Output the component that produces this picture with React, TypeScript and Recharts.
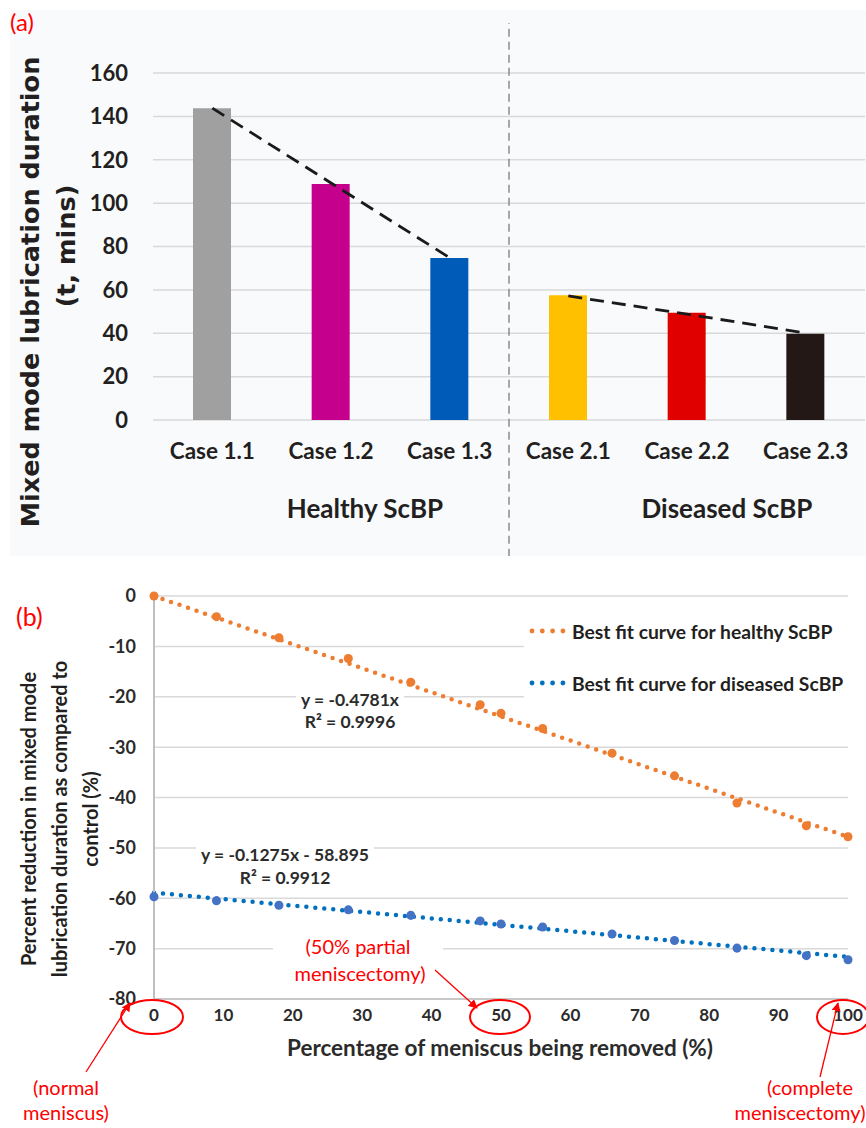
import React from 'react';
import {
  BarChart, Bar, XAxis, YAxis, CartesianGrid, Line, Cell, ReferenceLine,
  ComposedChart, Scatter,
} from 'recharts';

// ---------- Panel (a) data ----------
const cases = ['Case 1.1', 'Case 1.2', 'Case 1.3', 'Case 2.1', 'Case 2.2', 'Case 2.3'];
const durations = [143.8, 108.8, 74.7, 57.5, 49.5, 39.8];
const healthyTrend: (number | null)[] = [143.8, 109.3, 74.8, null, null, null];
const diseasedTrend: (number | null)[] = [null, null, null, 57.2, 48.8, 40.1];
const barColors = ['#A0A0A0', '#C4008C', '#005BB8', '#FFC000', '#E00000', '#231815'];
const groupLabels = ['Healthy ScBP', 'Diseased ScBP'];
const yTicksA = [0, 20, 40, 60, 80, 100, 120, 140, 160];

// ---------- Panel (b) data ----------
const removedPct = [0, 9, 18, 28, 37, 47, 50, 56, 66, 75, 84, 94, 100];
const healthyReduction = [0, -4.1, -8.3, -12.4, -17.1, -21.6, -23.3, -26.3, -31.2, -35.7, -41.1, -45.6, -47.8];
const diseasedReduction = [-59.7, -60.5, -61.4, -62.3, -63.4, -64.5, -65.1, -65.7, -67.1, -68.4, -69.9, -71.4, -72.2];
const healthyFitX = [0, 100];
const healthyFitY = [0, -47.81];
const diseasedFitX = [0, 100];
const diseasedFitY = [-58.9, -71.65];
const xTicksB = [0, 10, 20, 30, 40, 50, 60, 70, 80, 90, 100];
const yTicksB = [-80, -70, -60, -50, -40, -30, -20, -10, 0];

const dataA = cases.map((c, i) => ({
  name: c, value: durations[i], ht: healthyTrend[i], dt: diseasedTrend[i], n: i + 0.5,
}));
const healthyPts = removedPct.map((x, i) => ({ x, y: healthyReduction[i] }));
const diseasedPts = removedPct.map((x, i) => ({ x, y: diseasedReduction[i] }));
const healthyFit = healthyFitX.map((x, i) => ({ x, y: healthyFitY[i] }));
const diseasedFit = diseasedFitX.map((x, i) => ({ x, y: diseasedFitY[i] }));

const DARK = '#231F20';
const TXT = '#2B2B2B';
const RED = '#FF0000';
const LATO = 'Lato, "Open Sans", sans-serif';

const CaseTick = (props: any) => {
  const { x, y, payload } = props;
  const v = payload.value as string;
  return (
    <g>
      <text x={x} y={y + 22} textAnchor="middle" dominantBaseline="central"
        fontFamily={LATO} fontWeight={700} fontSize={22.5} fill={DARK}>{v}</text>
      {v === 'Case 1.2' && (
        <text x={x + 34} y={y + 80} textAnchor="middle" dominantBaseline="central"
          fontFamily={LATO} fontWeight={700} fontSize={26} fill={DARK}>{groupLabels[0]}</text>
      )}
      {v === 'Case 2.2' && (
        <text x={x + 40} y={y + 80} textAnchor="middle" dominantBaseline="central"
          fontFamily={LATO} fontWeight={700} fontSize={26} fill={DARK}>{groupLabels[1]}</text>
      )}
    </g>
  );
};

const Arrow = ({ x1, y1, x2, y2 }: any) => (
  <line x1={x1} y1={y1} x2={x2} y2={y2} stroke={RED} strokeWidth={1.3} markerEnd="url(#arrowRed)" />
);

export default function App() {
  return (
    <div style={{ position: 'absolute', left: 0, top: 0, width: 866, height: 1128, background: '#fff', overflow: 'hidden' }}>
      {/* Panel (a) */}
      <div style={{ position: 'absolute', left: 10, top: 10, width: 856, height: 546, background: '#F9FAFC' }}>
        <BarChart width={856} height={546} data={dataA}
          margin={{ top: 63, right: 1, bottom: 106, left: 0 }}>
          <CartesianGrid vertical={false} stroke="#D9D9D9" strokeWidth={1.5} />
          <XAxis dataKey="name" height={30} axisLine={false} tickLine={false} tick={<CaseTick />} interval={0} />
          <XAxis xAxisId="n" type="number" dataKey="n" domain={[0, 6]} hide />
          <YAxis domain={[0, 160]} ticks={yTicksA} width={143} axisLine={false} tickLine={false}
            tickMargin={19} tick={{ fontFamily: LATO, fontWeight: 700, fontSize: 22, fill: DARK }} />
          <Bar dataKey="value" barSize={38} isAnimationActive={false}>
            {dataA.map((d, i) => <Cell key={d.name} fill={barColors[i]} />)}
          </Bar>
          <Line dataKey="ht" stroke="#1A1A1A" strokeWidth={2.8} strokeDasharray="14 8" dot={false}
            activeDot={false} connectNulls={false} isAnimationActive={false} />
          <Line dataKey="dt" stroke="#1A1A1A" strokeWidth={2.8} strokeDasharray="14 8" dot={false}
            activeDot={false} connectNulls={false} isAnimationActive={false} />
          <ReferenceLine xAxisId="n" ifOverflow="visible" stroke="#8C8C8C" strokeWidth={1.5} strokeDasharray="8 5"
            segment={[{ x: 3, y: -63 }, { x: 3, y: 183 }]} />
        </BarChart>
      </div>

      {/* Panel (b) */}
      <div style={{ position: 'absolute', left: 0, top: 560, width: 866, height: 568 }}>
        <ComposedChart width={866} height={568} margin={{ top: 36, right: 18, bottom: 99, left: 0 }}>
          <CartesianGrid vertical={false} stroke="#D9D9D9" strokeWidth={1.5} />
          <XAxis type="number" dataKey="x" domain={[0, 100]} ticks={xTicksB} height={30}
            axisLine={{ stroke: '#BFBFBF', strokeWidth: 1.5 }} tickLine={false} tickMargin={4}
            tick={{ fontFamily: LATO, fontWeight: 700, fontSize: 17, fill: TXT }} />
          <YAxis type="number" domain={[-80, 0]} ticks={yTicksB} width={154}
            axisLine={{ stroke: '#BFBFBF', strokeWidth: 2 }} tickLine={false} tickMargin={12}
            tick={{ fontFamily: LATO, fontWeight: 700, fontSize: 18, fill: TXT }} />
          <Scatter data={healthyPts} dataKey="y" fill="#ED7D31" isAnimationActive={false} />
          <Scatter data={diseasedPts} dataKey="y" fill="#4472C4" isAnimationActive={false} />
          <Line data={healthyFit} dataKey="y" stroke="#ED7D31" strokeWidth={4.5} strokeDasharray="0 9"
            strokeLinecap="round" dot={false} activeDot={false} isAnimationActive={false} />
          <Line data={diseasedFit} dataKey="y" stroke="#0070C0" strokeWidth={4.5} strokeDasharray="0 9"
            strokeLinecap="round" dot={false} activeDot={false} isAnimationActive={false} />
        </ComposedChart>
      </div>

      {/* Annotations overlay */}
      <svg width={866} height={1128} style={{ position: 'absolute', left: 0, top: 0, pointerEvents: 'none' }}>
        <defs>
          <marker id="arrowRed" viewBox="0 0 10 10" refX="9" refY="5" markerWidth="9" markerHeight="9"
            markerUnits="userSpaceOnUse" orient="auto">
            <path d="M0,0 L10,5 L0,10 z" fill={RED} />
          </marker>
        </defs>
        {/* (a) */}
        <text x={10} y={31} fontFamily={LATO} fontSize={24} fill={RED}>(a)</text>
        <text x={30} y={292} transform="rotate(-90 30 292)" textAnchor="middle" dominantBaseline="central"
          fontFamily='"DejaVu Sans", sans-serif' fontWeight={700} fontSize={25.5} fill={DARK}>
          Mixed mode lubrication duration
        </text>
        <text x={66} y={246} transform="rotate(-90 66 246)" textAnchor="middle" dominantBaseline="central"
          fontFamily='"DejaVu Sans", sans-serif' fontWeight={700} fontSize={25.5} fill={DARK}>
          (t, mins)
        </text>

        {/* (b) */}
        <text x={16} y={626} fontFamily={LATO} fontSize={25} fill={RED}>(b)</text>
        {['Percent reduction in mixed mode', 'lubrication duration as compared to', 'control (%)'].map((t, i) => (
          <text key={t} x={28 + i * 31} y={819} transform={`rotate(-90 ${28 + i * 31} 819)`}
            textAnchor="middle" dominantBaseline="central" fontFamily={LATO} fontWeight={700}
            fontSize={20} fill={DARK}>{t}</text>
        ))}
        <text x={500} y={1047} textAnchor="middle" dominantBaseline="central" fontFamily={LATO}
          fontWeight={700} fontSize={22.5} fill={TXT}>Percentage of meniscus being removed (%)</text>

        {/* legend */}
        <rect x={524} y={606} width={330} height={100} fill="#fff" />
        {[0, 1, 2, 3].map((k) => (
          <circle key={'o' + k} cx={532 + k * 10.3} cy={631} r={2.4} fill="#ED7D31" />
        ))}
        {[0, 1, 2, 3].map((k) => (
          <circle key={'b' + k} cx={532 + k * 10.3} cy={683} r={2.4} fill="#0070C0" />
        ))}
        <text x={572} y={631} dominantBaseline="central" fontFamily={LATO} fontWeight={700} fontSize={19.3} fill={DARK}>
          Best fit curve for healthy ScBP
        </text>
        <text x={572} y={683} dominantBaseline="central" fontFamily={LATO} fontWeight={700} fontSize={19.3} fill={DARK}>
          Best fit curve for diseased ScBP
        </text>

        {/* equations */}
        <rect x={296} y={688} width={108} height={44} fill="#fff" />
        <text x={350} y={699} textAnchor="middle" dominantBaseline="central" fontFamily={LATO} fontWeight={700} fontSize={17.5} fill={TXT}>y = -0.4781x</text>
        <text x={350} y={721} textAnchor="middle" dominantBaseline="central" fontFamily={LATO} fontWeight={700} fontSize={17.5} fill={TXT}>R² = 0.9996</text>
        <rect x={196} y={842} width={178} height={46} fill="#fff" />
        <text x={285} y={854} textAnchor="middle" dominantBaseline="central" fontFamily={LATO} fontWeight={700} fontSize={17.5} fill={TXT}>y = -0.1275x - 58.895</text>
        <text x={285} y={877} textAnchor="middle" dominantBaseline="central" fontFamily={LATO} fontWeight={700} fontSize={17.5} fill={TXT}>R² = 0.9912</text>

        {/* red annotations */}
        <rect x={273} y={933} width={170} height={52} fill="#fff" />
        <text x={358} y={946} textAnchor="middle" dominantBaseline="central" fontFamily={LATO} fontSize={20} fill={RED}>(50% partial</text>
        <text x={360} y={973} textAnchor="middle" dominantBaseline="central" fontFamily={LATO} fontSize={20} fill={RED}>meniscectomy)</text>
        <ellipse cx={152} cy={1017} rx={31} ry={17} fill="none" stroke={RED} strokeWidth={2} />
        <ellipse cx={500} cy={1017} rx={30} ry={17} fill="none" stroke={RED} strokeWidth={2} />
        <ellipse cx={843} cy={1017} rx={26} ry={17} fill="none" stroke={RED} strokeWidth={2} />
        <Arrow x1={435} y1={970} x2={477} y2={1008} />
        <Arrow x1={86} y1={1072} x2={130} y2={1003} />
        <Arrow x1={820} y1={1077} x2={838} y2={1003} />
        <text x={66} y={1087} textAnchor="middle" dominantBaseline="central" fontFamily={LATO} fontSize={20} fill={RED}>(normal</text>
        <text x={66} y={1112} textAnchor="middle" dominantBaseline="central" fontFamily={LATO} fontSize={20} fill={RED}>meniscus)</text>
        <text x={810} y={1087} textAnchor="middle" dominantBaseline="central" fontFamily={LATO} fontSize={20} fill={RED}>(complete</text>
        <text x={800} y={1112} textAnchor="middle" dominantBaseline="central" fontFamily={LATO} fontSize={20} fill={RED}>meniscectomy)</text>
      </svg>
    </div>
  );
}
